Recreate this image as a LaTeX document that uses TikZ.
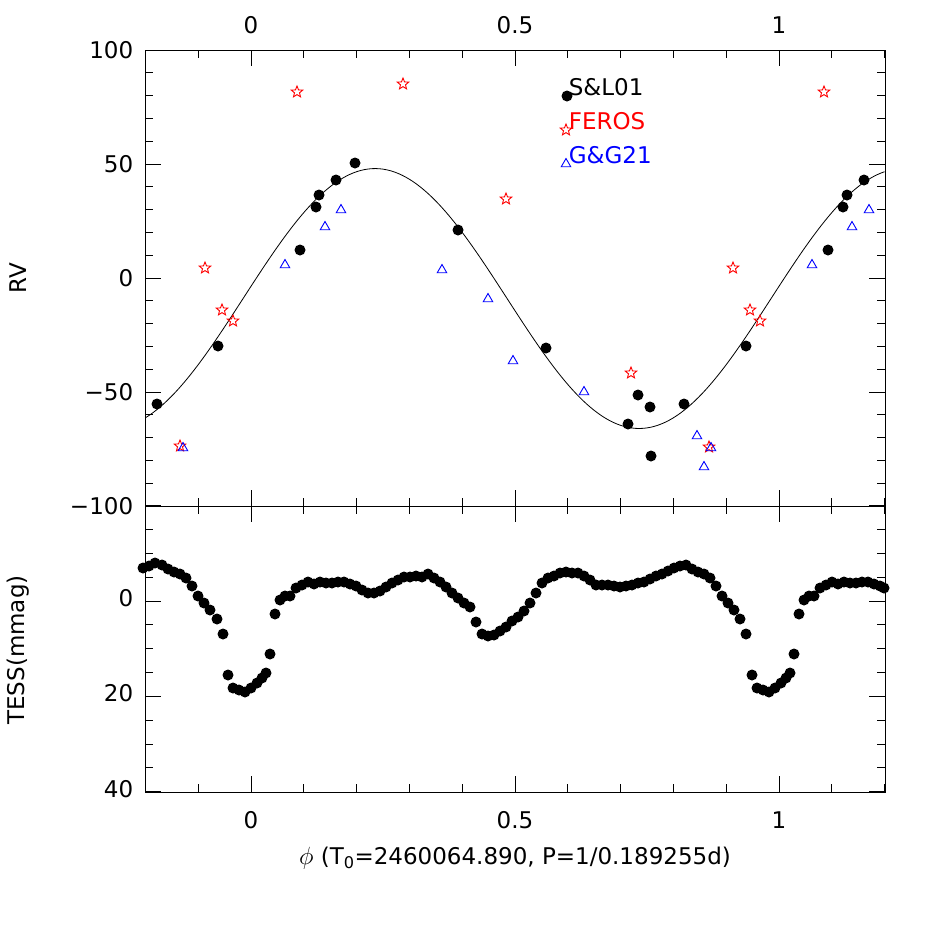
\documentclass[tikz,border=0pt]{standalone}
\usepackage{fontspec}
\setmainfont{DejaVu Sans}
\usetikzlibrary{shapes.geometric}
\begin{document}
\begin{tikzpicture}[x=1pt,y=-1pt,line width=1pt,
 lab/.style={font=\fontsize{23}{23}\selectfont},
 blk/.style={fill=black,circle,inner sep=0pt,minimum size=11pt},
 rstar/.style={star,star points=5,star point ratio=2.3,draw=red,line width=0.9pt,inner sep=0pt,minimum size=12pt},
 btri/.style={regular polygon,regular polygon sides=3,draw=blue,line width=0.9pt,inner sep=0pt,minimum size=11pt}]
\useasboundingbox (0,0) rectangle (932,932);
% frames
\draw (145,50) rectangle (885,792);
\draw (145,506) -- (885,506);
% x ticks
\foreach \i in {-2,...,12}{
 \pgfmathsetmacro\xx{251+52.8*\i}
 \pgfmathsetmacro\L{ifthenelse(mod(\i+10,5)==0,16,8)}
 \draw (\xx,50) -- ++(0,\L);
 \draw (\xx,506) -- ++(0,-\L);
 \draw (\xx,506) -- ++(0,\L);
 \draw (\xx,792) -- ++(0,-\L);
}
\foreach \p/\t in {0/0,0.5/0.5,1/1}{
 \node[lab] (tt\t) at ({251+528*\p},25) {\t};
 \node[lab] (bt\t) at ({251+528*\p},820) {\t};
}
% top y ticks
\foreach \v in {-100,-90,...,100}{
 \pgfmathsetmacro\L{ifthenelse(mod(\v+100,50)==0,16,8)}
 \draw (145,{278-2.28*\v}) -- ++(\L,0);
 \draw (885,{278-2.28*\v}) -- ++(-\L,0);
}
\foreach \v/\t in {100/100,50/50,0/0,-50/−50,-100/−100}{
 \node[lab,anchor=east] (yl\v) at (137,{278-2.28*\v}) {\t};
}
% bottom y ticks
\foreach \m in {-20,-15,...,40}{
 \pgfmathsetmacro\L{ifthenelse(mod(\m+20,20)==0,16,8)}
 \draw (145,{601+4.77*\m}) -- ++(\L,0);
 \draw (885,{601+4.77*\m}) -- ++(-\L,0);
}
\foreach \m in {0,20,40}{
 \node[lab,anchor=east] (ml\m) at (137,{598+4.77*\m}) {\m};
}
\node[lab,rotate=90] (rv) at (18,278) {RV};
\node[lab,rotate=90] (tess) at (18,650) {TESS(mmag)};
\node[lab] (xl) at (515,858) {$\phi$\ (T\textsubscript{0}=2460064.890, P=1/0.189255d)};
% curve
\draw[line width=0.8pt,domain=-0.2:1.2,samples=200,variable=\p]
 plot ({251+528*\p},{278-2.28*(-9+57*cos(360*(\p-0.235)))});
% data
\foreach \x/\y [count=\k] in {157/404,218/346,300/250,316/207,319/195,336/180,355/163,458/230,546/348,628/424,638/395,650/407,651/456,684/404,746/346,828/250,843/207,847/195,864/180,567/96}
 \node[blk] (b\k) at (\x,\y) {};
\foreach \x/\y [count=\k] in {180/446,205/268,222/310,233/321,297/92,403/84,506/199,631/373,709/447,733/268,750/310,760/321,824/92,566/130}
 \node[rstar] (r\k) at (\x,\y) {};
\foreach \x/\y [count=\k] in {183/448,285/265,325/227,341/210,442/270,488/299,513/361,584/392,697/436,704/467,711/448,812/265,852/227,869/210,566/164}
 \node[btri] (g\k) at (\x,\y) {};
\node[lab,anchor=west] (l1) at (565,87) {S\&L01};
\node[lab,anchor=west,text=red] (l2) at (565,121) {FEROS};
\node[lab,anchor=west,text=blue] (l3) at (565,155) {G\&G21};
\foreach \x/\y [count=\k] in {143/568,149/566,155/563,162/565,168/569,174/572,180/574,186/578,192/586,198/596,204/603,210/610,217/619,223/634,228/675,233/688,239/690,245/692,251/688,257/683,262/678,266/673,270/654,275/614,280/600,285/596,290/596,296/588,302/585,308/582,314/584,320/582,326/583,332/583,338/582,344/582,350/584,356/586,362/590,368/593,374/593,380/591,386/587,392/583,398/580,404/577,410/577,416/576,422/577,428/574,434/578,440/582,446/587,452/593,458/598,464/603,470/607,476/622,482/634,488/636,494/635,500/631,506/627,512/621,518/617,524/611,530/603,536/593,542/583,548/578,554/576,560/573,566/572,572/573,578/573,584/576,590/580,596/585,602/585,608/585,614/586,620/587,626/586,632/585,638/583,644/582,650/579,656/576,662/574,668/571,674/568,680/566,686/565,692/569,698/572,704/574,710/578,716/586,722/596,728/603,734/610,740/619,746/634,752/675,757/688,763/690,769/692,775/688,781/683,786/678,790/673,794/654,799/614,804/600,809/596,814/596,820/588,826/585,832/582,838/584,844/582,850/583,856/583,862/582,868/582,874/584,880/586,884/588}
 \node[blk] (t\k) at (\x,\y) {};
\end{tikzpicture}
\end{document}
